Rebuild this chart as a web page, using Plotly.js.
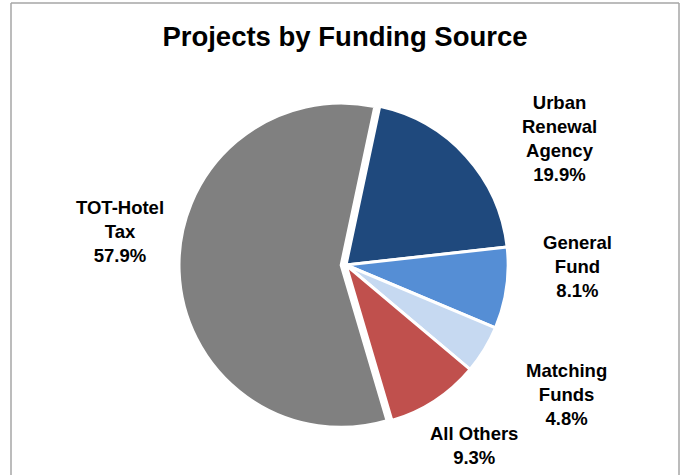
<!DOCTYPE html>
<html>
<head>
<meta charset="utf-8">
<script src="https://cdn.plot.ly/plotly-3.0.1.min.js"></script>
<style>html,body{margin:0;padding:0;background:#fff;}#chart{width:682px;height:475px;}</style>
</head>
<body>
<div id="chart"></div>
<script>
const categories = ["Urban<br>Renewal<br>Agency", "General<br>Fund", "Matching<br>Funds", "All Others", "TOT-Hotel<br>Tax"];
const shares = [19.9, 8.1, 4.8, 9.3, 57.9];
const sliceColors = ["#1F497D", "#558ED5", "#C6D9F1", "#C0504D", "#808080"];
const pulls = [0, 0, 0, 0, 0.03];

const W = 682, H = 475;
const cx = 346, cy = 265, R = 167;
// label centres (pixels from top-left), one per category
const labelPx = [[559, 139], [577, 266], [566, 394], [474, 445], [120, 231]];

const labelFont = { family: "Liberation Sans, Arial, sans-serif", size: 18.5, color: "#000000" };

const trace = {
  type: "pie",
  labels: categories,
  values: shares,
  sort: false,
  direction: "clockwise",
  rotation: 12,
  pull: pulls,
  marker: { colors: sliceColors, line: { color: "#ffffff", width: 3 } },
  textinfo: "none",
  hoverinfo: "none",
  showlegend: false,
  domain: { x: [(cx - R) / W, (cx + R) / W], y: [(H - cy - R) / H, (H - cy + R) / H] }
};

const annotations = categories.map((c, i) => ({
  xref: "paper", yref: "paper",
  x: labelPx[i][0] / W, y: 1 - labelPx[i][1] / H,
  xanchor: "center", yanchor: "middle",
  showarrow: false,
  align: "center",
  text: "<b>" + c + "<br>" + shares[i].toFixed(1) + "%</b>",
  font: labelFont
}));

const layout = {
  width: W, height: H,
  margin: { l: 0, r: 0, t: 0, b: 0 },
  paper_bgcolor: "#ffffff",
  showlegend: false,
  title: {
    text: "<b>Projects by Funding Source</b>",
    font: { family: "Liberation Sans, Arial, sans-serif", size: 27.5, color: "#000000" },
    x: 345 / W, xanchor: "center",
    y: 1 - 36 / H, yanchor: "middle"
  },
  annotations: annotations,
  shapes: [
    { type: "line", xref: "paper", yref: "paper", x0: 11 / W, x1: 11 / W, y0: -0.05, y1: 1 - 3 / H, line: { color: "#a6a6a6", width: 1.5 } },
    { type: "line", xref: "paper", yref: "paper", x0: 11 / W, x1: 679 / W, y0: 1 - 3 / H, y1: 1 - 3 / H, line: { color: "#a6a6a6", width: 1.5 } },
    { type: "line", xref: "paper", yref: "paper", x0: 679 / W, x1: 679 / W, y0: -0.05, y1: 1 - 3 / H, line: { color: "#a6a6a6", width: 1.5 } }
  ]
};

Plotly.newPlot("chart", [trace], layout, { staticPlot: true, displayModeBar: false });
</script>
</body>
</html>
